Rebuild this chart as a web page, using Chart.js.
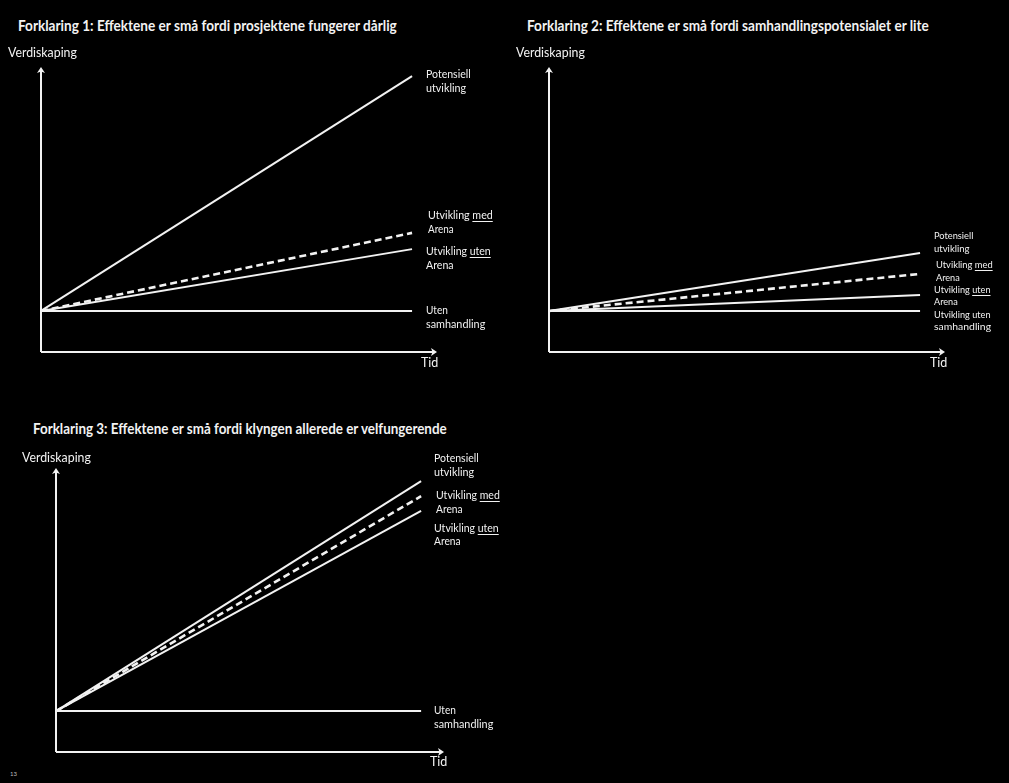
<!DOCTYPE html>
<html><head><meta charset="utf-8">
<script src="https://cdn.jsdelivr.net/npm/chart.js@4"></script>
<style>
html,body{margin:0;padding:0;background:#000;width:1009px;height:783px;overflow:hidden;}
.c{position:absolute;}
.t{position:absolute;color:#f2f2f2;font-family:Lato,"Open Sans",sans-serif;white-space:nowrap;transform-origin:0 50%;line-height:1;}
.title{font-weight:bold;font-size:15px;}
.ax{font-size:12.5px;}
.lab{font-size:11px;}
.lab2{font-size:9.5px;}
.tiny{font-size:6px;color:#bbb;}
u{text-decoration-thickness:1px;text-underline-offset:2px;}
</style></head>
<body>
<canvas id="c1" class="c"></canvas>
<canvas id="c2" class="c"></canvas>
<canvas id="c3" class="c"></canvas>
<script>
// ---- data ----
const seriesNames = ['Potensiell utvikling', 'Utvikling med Arena', 'Utvikling uten Arena', 'Uten samhandling'];
const titles = [
  'Forklaring 1: Effektene er små fordi prosjektene fungerer dårlig',
  'Forklaring 2: Effektene er små fordi samhandlingspotensialet er lite',
  'Forklaring 3: Effektene er små fordi klyngen allerede er velfungerende'
];
const yAxisLabel = 'Verdiskaping';
const xAxisLabel = 'Tid';
const timePoints1 = [0, 93.7];
const timePoints2 = [0, 93.7];
const timePoints3 = [0, 94.1];
// values at start and end of time (Verdiskaping, 0-100 scale)
const c1Potensiell = [14.4, 96.8];
const c1Med = [14.4, 41.8];
const c1Uten = [14.4, 36.1];
const c1Samhandling = [14.4, 14.4];
const c2Potensiell = [14.4, 34.7];
const c2Med = [14.4, 27.4];
const c2Uten = [14.4, 20.0];
const c2Samhandling = [14.4, 14.4];
const c3Potensiell = [14.4, 95.4];
const c3Med = [14.4, 90.1];
const c3Uten = [14.4, 84.9];
const c3Samhandling = [14.4, 14.4];

const PAD = 20;
const WHITE = '#f2f2f2';

function pts(xs, ys){ return xs.map((x,i)=>({x:x, y:ys[i]})); }

const axisArrows = {
  id:'axisArrows',
  afterDatasetsDraw(chart){
    const ctx = chart.ctx, xs = chart.scales.x, ys = chart.scales.y;
    const x0 = xs.getPixelForValue(0), x1 = xs.getPixelForValue(100);
    const y0 = ys.getPixelForValue(0), y1 = ys.getPixelForValue(100);
    ctx.save();
    ctx.strokeStyle = WHITE; ctx.fillStyle = WHITE; ctx.lineWidth = 2;
    ctx.beginPath(); ctx.moveTo(x0, y0); ctx.lineTo(x0, y1 + 3); ctx.stroke();
    ctx.beginPath(); ctx.moveTo(x0, y0); ctx.lineTo(x1 - 3, y0); ctx.stroke();
    ctx.beginPath(); ctx.moveTo(x0, y1); ctx.lineTo(x0 - 4, y1 + 6); ctx.lineTo(x0, y1 + 4.5); ctx.lineTo(x0 + 4, y1 + 6); ctx.closePath(); ctx.fill();
    ctx.beginPath(); ctx.moveTo(x1, y0); ctx.lineTo(x1 - 6, y0 - 4); ctx.lineTo(x1 - 4.5, y0); ctx.lineTo(x1 - 6, y0 + 4); ctx.closePath(); ctx.fill();
    ctx.restore();
  }
};

function makeChart(id, left, top, w, h, xsArr, series){
  const cv = document.getElementById(id);
  cv.style.left = (left - PAD) + 'px';
  cv.style.top = (top - PAD) + 'px';
  cv.width = w + 2*PAD; cv.height = h + 2*PAD;
  cv.style.width = (w + 2*PAD) + 'px'; cv.style.height = (h + 2*PAD) + 'px';
  const styles = [
    {borderWidth:2, borderDash:[]},
    {borderWidth:2.6, borderDash:[7,4]},
    {borderWidth:2, borderDash:[]},
    {borderWidth:2, borderDash:[]}
  ];
  new Chart(cv, {
    type:'line',
    data:{ datasets: series.map((ys,i)=>({
      label: seriesNames[i], data: pts(xsArr, ys),
      borderColor: WHITE, borderWidth: styles[i].borderWidth, borderDash: styles[i].borderDash,
      pointRadius:0, fill:false, tension:0, clip:false
    })).reverse() },
    options:{
      responsive:false, animation:false, devicePixelRatio:1,
      layout:{padding:PAD},
      plugins:{legend:{display:false}, tooltip:{enabled:false}},
      scales:{
        x:{type:'linear', min:0, max:100, display:false},
        y:{type:'linear', min:0, max:100, display:false}
      }
    },
    plugins:[axisArrows]
  });
}

makeChart('c1', 41, 67, 396, 285, timePoints1, [c1Potensiell, c1Med, c1Uten, c1Samhandling]);
makeChart('c2', 549, 67, 396, 285, timePoints2, [c2Potensiell, c2Med, c2Uten, c2Samhandling]);
makeChart('c3', 56, 468, 388, 284, timePoints3, [c3Potensiell, c3Med, c3Uten, c3Samhandling]);

// ---- text ----
function txt(html, x, yc, cls, targetW){
  const d = document.createElement('div');
  d.className = 't ' + cls;
  d.innerHTML = html;
  document.body.appendChild(d);
  const h = d.offsetHeight;
  d.style.left = x + 'px';
  d.style.top = (yc - h/2) + 'px';
  if (targetW){
    const w = d.offsetWidth;
    d.style.transform = 'scaleX(' + (targetW / w) + ')';
  }
  return d;
}
txt(titles[0], 18, 25, 'title', 379);
txt(titles[1], 527, 25, 'title', 402);
txt(titles[2], 33, 428, 'title', 414);

txt(yAxisLabel, 8, 53, 'ax', 69);
txt(yAxisLabel, 516, 53, 'ax', 69);
txt(yAxisLabel, 22, 458, 'ax', 69);
txt(xAxisLabel, 421, 363, 'ax', 17);
txt(xAxisLabel, 930, 363, 'ax', 17);
txt(xAxisLabel, 430, 762, 'ax', 17);

// chart 1 labels
txt('Potensiell', 426, 73, 'lab', 45);
txt('utvikling', 426, 87, 'lab', 40);
txt('Utvikling <u>med</u>', 428, 214, 'lab', 65);
txt('Arena', 428, 228, 'lab', 26);
txt('Utvikling <u>uten</u>', 426, 250, 'lab', 65);
txt('Arena', 426, 264, 'lab', 28);
txt('Uten', 426, 309, 'lab', 22);
txt('samhandling', 426, 323, 'lab', 59);
// chart 2 labels
txt('Potensiell', 934, 236, 'lab2', 39);
txt('utvikling', 934, 249, 'lab2', 35);
txt('Utvikling <u>med</u>', 936, 265, 'lab2', 57);
txt('Arena', 936, 278, 'lab2', 24);
txt('Utvikling <u>uten</u>', 934, 290, 'lab2', 57);
txt('Arena', 934, 302, 'lab2', 24);
txt('Utvikling uten', 934, 315, 'lab2', 57);
txt('samhandling', 934, 327, 'lab2', 57);
// chart 3 labels
txt('Potensiell', 434, 457, 'lab', 45);
txt('utvikling', 434, 471, 'lab', 40);
txt('Utvikling <u>med</u>', 436, 494, 'lab', 64);
txt('Arena', 436, 508, 'lab', 27);
txt('Utvikling <u>uten</u>', 434, 527, 'lab', 65);
txt('Arena', 434, 540, 'lab', 27);
txt('Uten', 434, 709, 'lab', 22);
txt('samhandling', 434, 723, 'lab', 59);

txt('13', 10, 774, 'tiny', 0);
</script>
</body></html>
